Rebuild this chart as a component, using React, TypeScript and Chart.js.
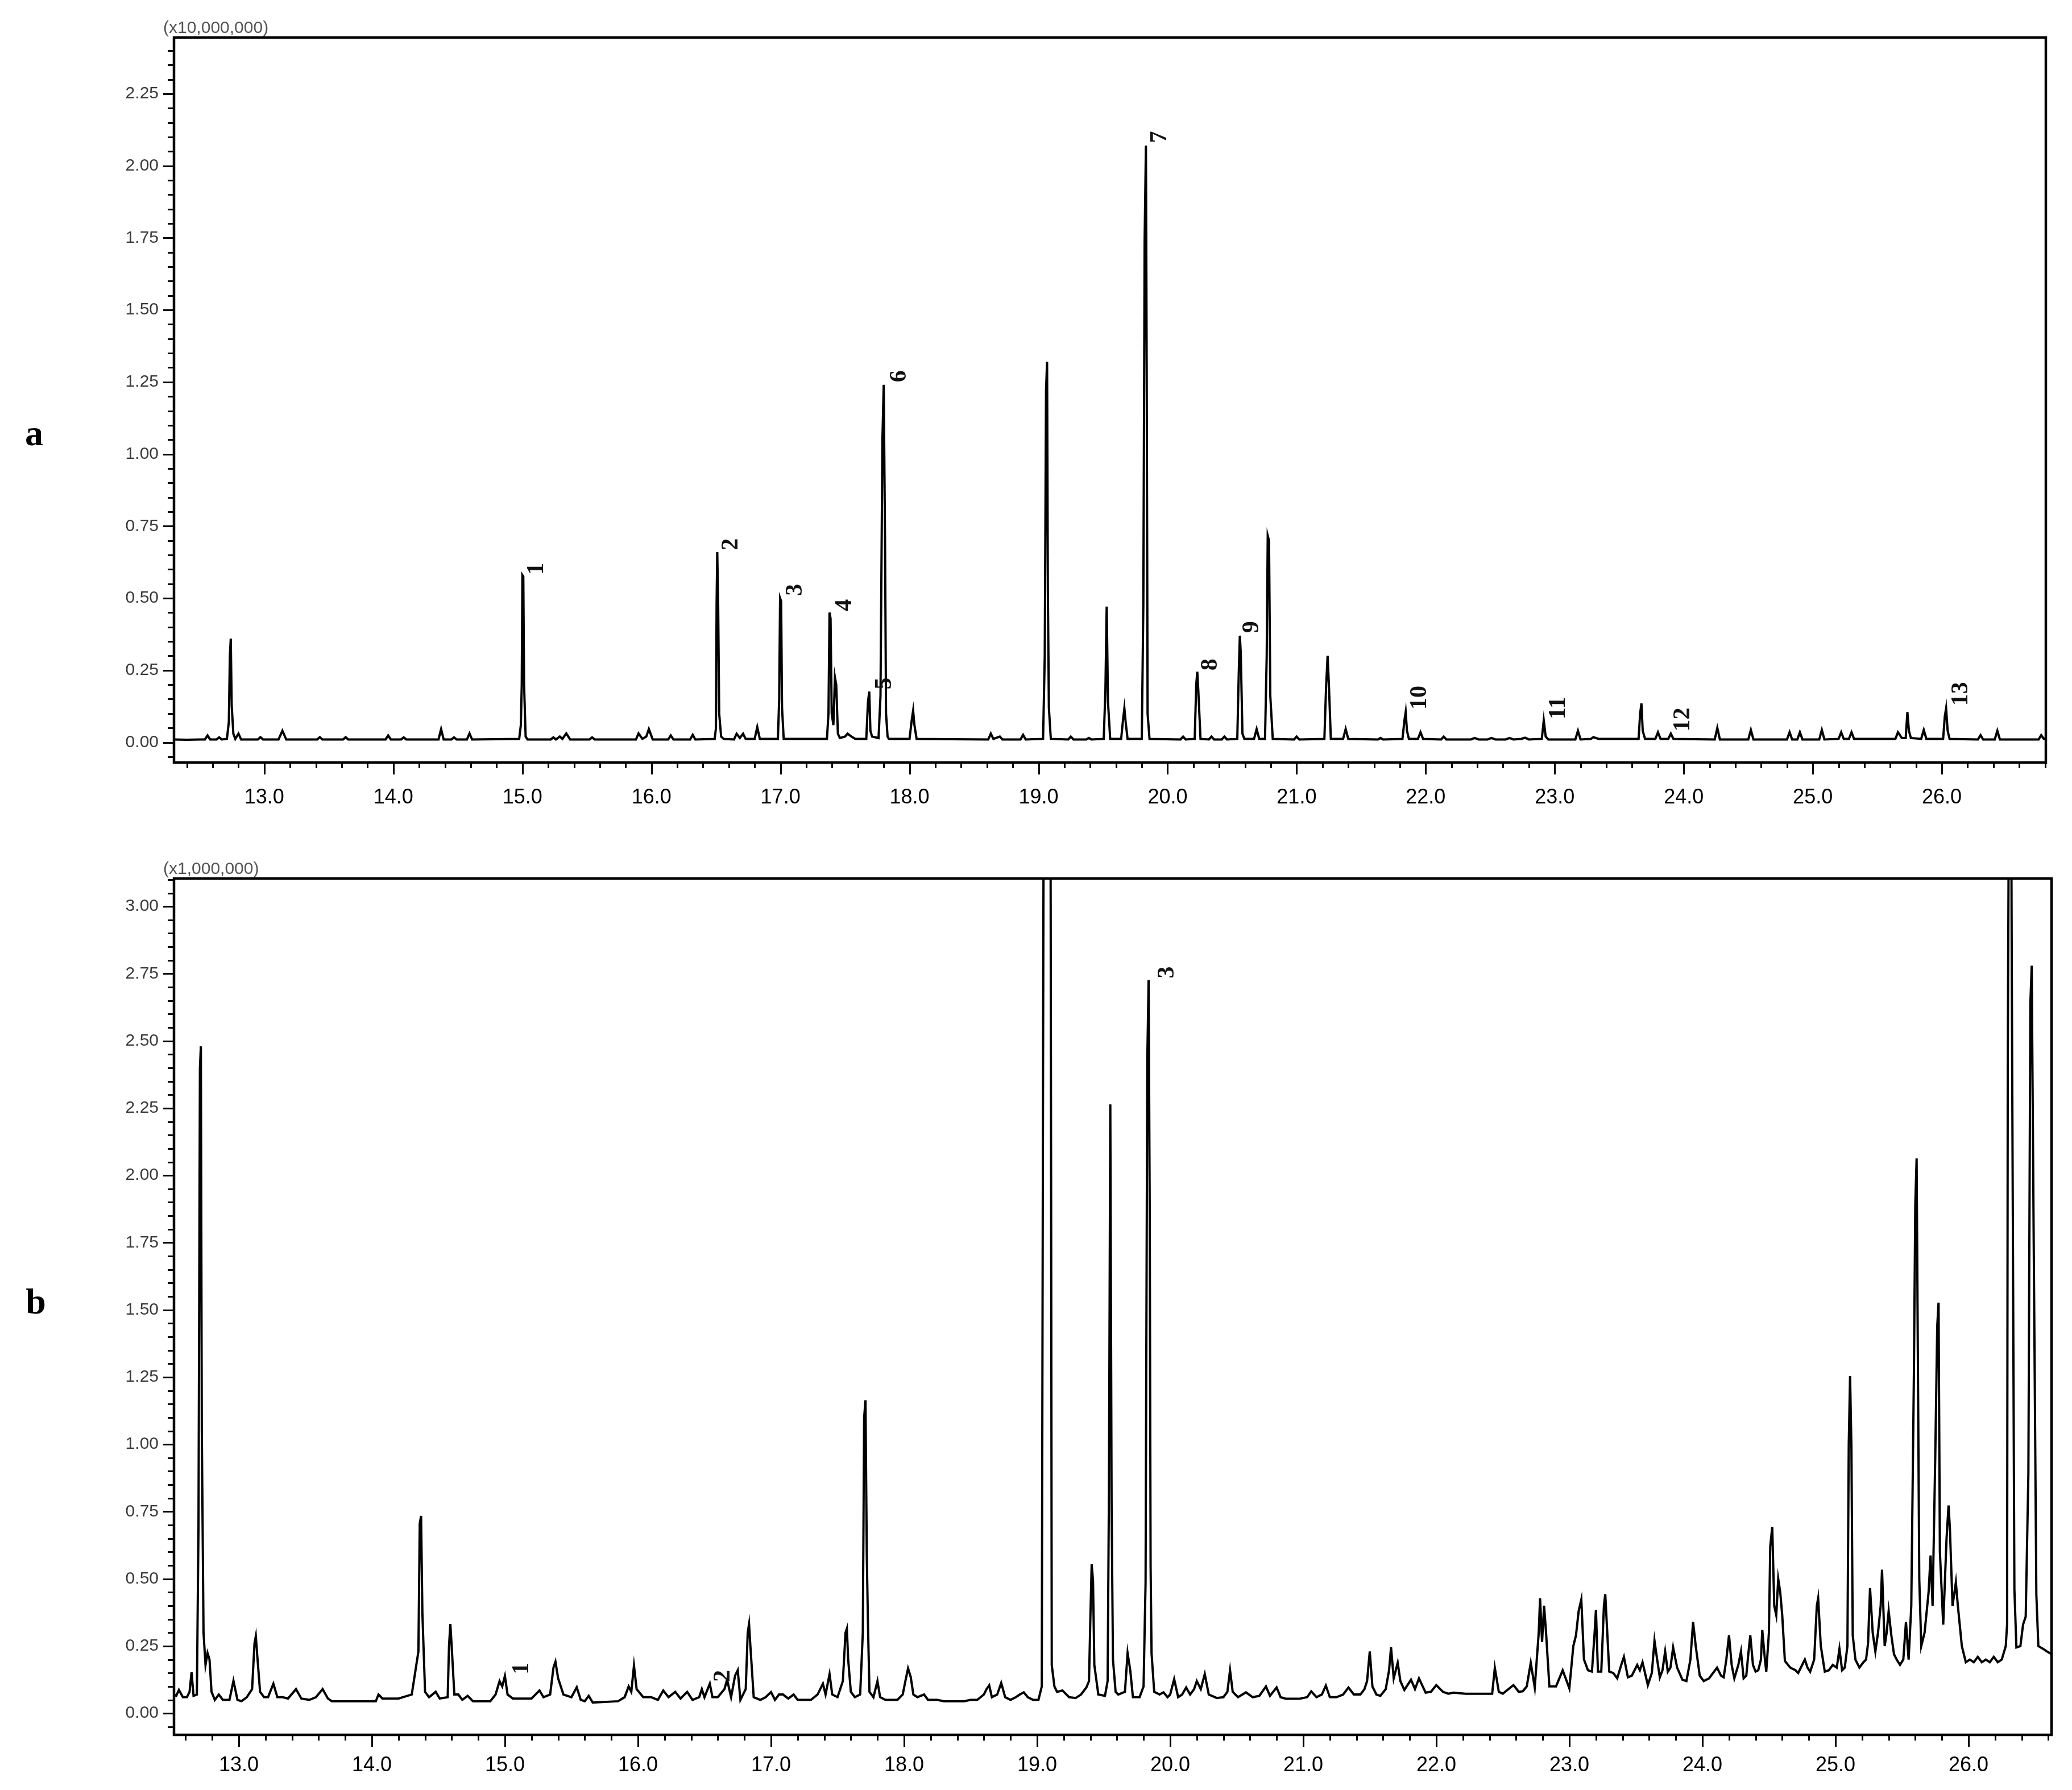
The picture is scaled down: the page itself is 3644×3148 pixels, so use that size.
import React, { useEffect, useRef } from "react";
import { Chart, registerables } from "chart.js";

Chart.register(...registerables);

// ---------- Panel a : retention time (min) vs intensity (x10,000,000) ----------
const traceA: [number, number][] = [
  [12.30, 0.010], [12.40, 0.009], [12.50, 0.010],
  [12.54, 0.010], [12.56, 0.024], [12.58, 0.010],
  [12.63, 0.010], [12.65, 0.017], [12.67, 0.010],
  [12.71, 0.012], [12.725, 0.07], [12.733, 0.30], [12.74, 0.36], [12.747, 0.13], [12.76, 0.03], [12.775, 0.012],
  [12.80, 0.030], [12.82, 0.010],
  [12.95, 0.010], [12.97, 0.018], [12.99, 0.010],
  [13.11, 0.010], [13.14, 0.040], [13.17, 0.010],
  [13.41, 0.010], [13.43, 0.018], [13.45, 0.010],
  [13.61, 0.010], [13.63, 0.018], [13.65, 0.010],
  [13.94, 0.010], [13.96, 0.024], [13.98, 0.010],
  [14.06, 0.010], [14.08, 0.017], [14.10, 0.010],
  [14.35, 0.010], [14.37, 0.046], [14.39, 0.010],
  [14.45, 0.010], [14.47, 0.017], [14.49, 0.010],
  [14.57, 0.010], [14.59, 0.031], [14.61, 0.010],
  [14.975, 0.012], [14.988, 0.06], [14.995, 0.20], [15.0, 0.58], [15.007, 0.575], [15.013, 0.20], [15.025, 0.02], [15.04, 0.010],
  [15.22, 0.010], [15.24, 0.017], [15.26, 0.010], [15.29, 0.020], [15.31, 0.012], [15.34, 0.031], [15.37, 0.010],
  [15.52, 0.010], [15.54, 0.017], [15.56, 0.010],
  [15.88, 0.010], [15.90, 0.031], [15.93, 0.012], [15.96, 0.020], [15.98, 0.046], [16.01, 0.010],
  [16.13, 0.010], [16.15, 0.024], [16.17, 0.010],
  [16.30, 0.010], [16.32, 0.026], [16.34, 0.010],
  [16.49, 0.012], [16.50, 0.05], [16.505, 0.48], [16.51, 0.66], [16.517, 0.48], [16.525, 0.10], [16.54, 0.02], [16.56, 0.012],
  [16.64, 0.010], [16.66, 0.030], [16.685, 0.015], [16.71, 0.030], [16.73, 0.012],
  [16.80, 0.012], [16.82, 0.053], [16.84, 0.012],
  [16.98, 0.012], [16.99, 0.15], [16.997, 0.50], [17.005, 0.49], [17.012, 0.12], [17.025, 0.012],
  [17.36, 0.012], [17.372, 0.10], [17.38, 0.45], [17.388, 0.43], [17.397, 0.10], [17.41, 0.06], [17.422, 0.226], [17.432, 0.20], [17.445, 0.03], [17.46, 0.015],
  [17.50, 0.020], [17.52, 0.030], [17.55, 0.020], [17.58, 0.012],
  [17.665, 0.012], [17.678, 0.14], [17.688, 0.176], [17.697, 0.04], [17.71, 0.02],
  [17.76, 0.015], [17.775, 0.16], [17.79, 1.05], [17.80, 1.24], [17.81, 0.71], [17.818, 0.10], [17.83, 0.02], [17.84, 0.012],
  [18.00, 0.012], [18.018, 0.08], [18.028, 0.11], [18.038, 0.06], [18.055, 0.012],
  [18.61, 0.010], [18.63, 0.030], [18.65, 0.012], [18.70, 0.020], [18.72, 0.010],
  [18.86, 0.010], [18.88, 0.026], [18.90, 0.010],
  [19.035, 0.012], [19.048, 0.30], [19.058, 1.22], [19.066, 1.32], [19.072, 0.53], [19.08, 0.12], [19.095, 0.012],
  [19.23, 0.010], [19.25, 0.020], [19.27, 0.010], [19.37, 0.010], [19.39, 0.015], [19.41, 0.010],
  [19.505, 0.012], [19.518, 0.18], [19.528, 0.471], [19.538, 0.14], [19.555, 0.012],
  [19.64, 0.012], [19.655, 0.08], [19.665, 0.118], [19.675, 0.07], [19.69, 0.012],
  [19.80, 0.012], [19.812, 0.479], [19.822, 1.74], [19.832, 2.07], [19.838, 1.29], [19.845, 0.10], [19.86, 0.012],
  [20.10, 0.010], [20.12, 0.020], [20.14, 0.010],
  [20.21, 0.012], [20.222, 0.20], [20.23, 0.245], [20.238, 0.18], [20.255, 0.012],
  [20.32, 0.010], [20.34, 0.020], [20.36, 0.010], [20.42, 0.010], [20.44, 0.020], [20.46, 0.010],
  [20.54, 0.012], [20.552, 0.25], [20.56, 0.37], [20.567, 0.31], [20.58, 0.03], [20.595, 0.012],
  [20.67, 0.012], [20.69, 0.046], [20.71, 0.012],
  [20.755, 0.012], [20.768, 0.30], [20.776, 0.717], [20.786, 0.70], [20.796, 0.16], [20.815, 0.012],
  [20.98, 0.010], [21.00, 0.020], [21.02, 0.010],
  [21.215, 0.012], [21.228, 0.19], [21.24, 0.30], [21.25, 0.20], [21.265, 0.012],
  [21.36, 0.012], [21.38, 0.046], [21.40, 0.012],
  [21.63, 0.010], [21.65, 0.015], [21.67, 0.010],
  [21.82, 0.012], [21.835, 0.075], [21.845, 0.105], [21.855, 0.04], [21.87, 0.012],
  [21.94, 0.012], [21.96, 0.035], [21.98, 0.012],
  [22.12, 0.010], [22.14, 0.020], [22.16, 0.010],
  [22.35, 0.010], [22.38, 0.015], [22.41, 0.010], [22.48, 0.010], [22.51, 0.015], [22.54, 0.010],
  [22.62, 0.010], [22.65, 0.015], [22.68, 0.010], [22.74, 0.012], [22.77, 0.016], [22.80, 0.010],
  [22.90, 0.012], [22.915, 0.076], [22.93, 0.02], [22.95, 0.010],
  [23.16, 0.010], [23.18, 0.040], [23.20, 0.010],
  [23.28, 0.012], [23.30, 0.018], [23.34, 0.012],
  [23.65, 0.012], [23.662, 0.10], [23.672, 0.135], [23.682, 0.04], [23.70, 0.012],
  [23.78, 0.012], [23.80, 0.035], [23.82, 0.012], [23.88, 0.012], [23.90, 0.030], [23.92, 0.012],
  [24.24, 0.010], [24.26, 0.050], [24.28, 0.010],
  [24.50, 0.010], [24.52, 0.043], [24.54, 0.010],
  [24.80, 0.010], [24.82, 0.035], [24.84, 0.010], [24.88, 0.010], [24.90, 0.035], [24.92, 0.010],
  [25.05, 0.010], [25.07, 0.043], [25.09, 0.010],
  [25.20, 0.012], [25.22, 0.035], [25.24, 0.012], [25.28, 0.012], [25.30, 0.035], [25.32, 0.012],
  [25.64, 0.012], [25.66, 0.035], [25.69, 0.015],
  [25.72, 0.015], [25.733, 0.105], [25.745, 0.04], [25.76, 0.015],
  [25.84, 0.012], [25.86, 0.043], [25.88, 0.012],
  [26.01, 0.012], [26.023, 0.09], [26.033, 0.118], [26.045, 0.04], [26.06, 0.012],
  [26.28, 0.010], [26.30, 0.025], [26.32, 0.010],
  [26.41, 0.010], [26.43, 0.040], [26.45, 0.010],
  [26.75, 0.010], [26.77, 0.025], [26.79, 0.012], [26.81, 0.015],
];

const peakLabelsA = ["1", "2", "3", "4", "5", "6", "7", "8", "9", "10", "11", "12", "13"];
const peakLabelTimesA = [15.11, 16.62, 17.116, 17.50, 17.81, 17.925, 19.94, 20.335, 20.655, 21.956, 23.03, 23.995, 26.15];
const peakLabelValuesA = [0.602, 0.687, 0.529, 0.476, 0.204, 1.27, 2.10, 0.27, 0.40, 0.155, 0.119, 0.079, 0.168];

// ---------- Panel b : retention time (min) vs intensity (x1,000,000) ----------
const traceB: [number, number][] = [
  [12.513, 0.070], [12.53, 0.065], [12.55, 0.087], [12.58, 0.060], [12.61, 0.060], [12.63, 0.080], [12.645, 0.153], [12.66, 0.065], [12.685, 0.070],
  [12.697, 0.69], [12.708, 2.40], [12.715, 2.48], [12.722, 1.05], [12.735, 0.30], [12.75, 0.18], [12.765, 0.224], [12.78, 0.20], [12.795, 0.08],
  [12.82, 0.050], [12.85, 0.070], [12.88, 0.050], [12.93, 0.050], [12.96, 0.121], [12.99, 0.050], [13.02, 0.045], [13.06, 0.060], [13.10, 0.090],
  [13.118, 0.26], [13.128, 0.287], [13.138, 0.22], [13.16, 0.080], [13.19, 0.060], [13.22, 0.060], [13.26, 0.110], [13.29, 0.060], [13.33, 0.060],
  [13.37, 0.055], [13.43, 0.090], [13.47, 0.055], [13.53, 0.050], [13.58, 0.060], [13.63, 0.090], [13.67, 0.055], [13.70, 0.045], [14.03, 0.045],
  [14.05, 0.070], [14.08, 0.055], [14.20, 0.055], [14.30, 0.070], [14.35, 0.23], [14.36, 0.705], [14.37, 0.734], [14.38, 0.37], [14.40, 0.080],
  [14.43, 0.060], [14.48, 0.080], [14.51, 0.055], [14.57, 0.060], [14.58, 0.25], [14.59, 0.332], [14.60, 0.25], [14.62, 0.070], [14.65, 0.070],
  [14.68, 0.050], [14.72, 0.065], [14.76, 0.045], [14.89, 0.045], [14.93, 0.070], [14.96, 0.120], [14.98, 0.100], [15.00, 0.139], [15.02, 0.070],
  [15.06, 0.055], [15.20, 0.055], [15.26, 0.085], [15.29, 0.060], [15.34, 0.070], [15.365, 0.17], [15.38, 0.192], [15.40, 0.130], [15.44, 0.070],
  [15.50, 0.060], [15.54, 0.097], [15.57, 0.050], [15.60, 0.045], [15.63, 0.065], [15.66, 0.040], [15.85, 0.045], [15.90, 0.060], [15.93, 0.100],
  [15.95, 0.080], [15.97, 0.177], [15.99, 0.090], [16.04, 0.060], [16.10, 0.060], [16.15, 0.050], [16.19, 0.085], [16.23, 0.060], [16.28, 0.080],
  [16.32, 0.055], [16.37, 0.080], [16.41, 0.050], [16.46, 0.060], [16.48, 0.090], [16.50, 0.060], [16.54, 0.110], [16.56, 0.060], [16.60, 0.060],
  [16.65, 0.090], [16.67, 0.125], [16.70, 0.060], [16.73, 0.140], [16.75, 0.160], [16.77, 0.050], [16.81, 0.090], [16.825, 0.30], [16.835, 0.332],
  [16.845, 0.25], [16.87, 0.060], [16.92, 0.050], [16.96, 0.060], [17.00, 0.079], [17.03, 0.050], [17.06, 0.070], [17.09, 0.070], [17.13, 0.055],
  [17.17, 0.070], [17.20, 0.050], [17.30, 0.050], [17.35, 0.070], [17.39, 0.110], [17.41, 0.070], [17.44, 0.146], [17.46, 0.070], [17.50, 0.060],
  [17.54, 0.120], [17.56, 0.30], [17.57, 0.315], [17.58, 0.20], [17.60, 0.080], [17.63, 0.060], [17.67, 0.070], [17.69, 0.30], [17.70, 1.10],
  [17.71, 1.164], [17.72, 0.583], [17.73, 0.30], [17.74, 0.080], [17.77, 0.060], [17.80, 0.120], [17.82, 0.060], [17.86, 0.050], [17.95, 0.050],
  [17.99, 0.070], [18.01, 0.120], [18.03, 0.167], [18.05, 0.135], [18.07, 0.070], [18.10, 0.060], [18.15, 0.070], [18.18, 0.050], [18.25, 0.050],
  [18.30, 0.045], [18.45, 0.045], [18.50, 0.050], [18.55, 0.050], [18.60, 0.070], [18.62, 0.090], [18.64, 0.104], [18.66, 0.060], [18.70, 0.070],
  [18.73, 0.113], [18.76, 0.060], [18.80, 0.050], [18.84, 0.060], [18.87, 0.070], [18.90, 0.078], [18.93, 0.060], [18.97, 0.050], [19.01, 0.050],
  [19.035, 0.100], [19.045, 2.5], [19.05, 3.6], [19.10, 3.6], [19.105, 2.0], [19.11, 0.18], [19.13, 0.100], [19.15, 0.080], [19.19, 0.085],
  [19.24, 0.060], [19.29, 0.057], [19.33, 0.070], [19.37, 0.096], [19.39, 0.120], [19.40, 0.35], [19.41, 0.554], [19.42, 0.494], [19.43, 0.18],
  [19.46, 0.070], [19.51, 0.065], [19.53, 0.120], [19.54, 0.843], [19.55, 2.264], [19.56, 0.755], [19.57, 0.20], [19.59, 0.080], [19.61, 0.070],
  [19.66, 0.080], [19.68, 0.224], [19.70, 0.160], [19.72, 0.060], [19.77, 0.060], [19.80, 0.100], [19.815, 0.484], [19.828, 2.43], [19.838, 2.726],
  [19.846, 1.90], [19.853, 0.544], [19.86, 0.224], [19.88, 0.080], [19.92, 0.070], [19.95, 0.078], [19.98, 0.060], [20.00, 0.070], [20.03, 0.127],
  [20.06, 0.060], [20.09, 0.070], [20.12, 0.096], [20.15, 0.070], [20.18, 0.090], [20.20, 0.120], [20.23, 0.090], [20.26, 0.146], [20.29, 0.070],
  [20.35, 0.057], [20.40, 0.060], [20.43, 0.080], [20.45, 0.160], [20.47, 0.080], [20.51, 0.060], [20.57, 0.078], [20.62, 0.060], [20.67, 0.065],
  [20.72, 0.100], [20.75, 0.065], [20.80, 0.096], [20.83, 0.060], [20.87, 0.054], [20.97, 0.054], [21.03, 0.060], [21.06, 0.082], [21.10, 0.060],
  [21.14, 0.070], [21.17, 0.103], [21.20, 0.060], [21.25, 0.060], [21.30, 0.070], [21.34, 0.096], [21.38, 0.070], [21.43, 0.070], [21.46, 0.090],
  [21.48, 0.120], [21.50, 0.230], [21.52, 0.100], [21.55, 0.070], [21.58, 0.065], [21.62, 0.090], [21.645, 0.160], [21.66, 0.245], [21.68, 0.130],
  [21.71, 0.188], [21.73, 0.120], [21.76, 0.087], [21.81, 0.125], [21.84, 0.090], [21.87, 0.130], [21.92, 0.077], [21.96, 0.080], [22.00, 0.105],
  [22.05, 0.080], [22.09, 0.073], [22.13, 0.077], [22.22, 0.073], [22.30, 0.073], [22.42, 0.073], [22.44, 0.169], [22.47, 0.080], [22.50, 0.073],
  [22.58, 0.105], [22.62, 0.080], [22.65, 0.082], [22.68, 0.100], [22.71, 0.188], [22.74, 0.096], [22.77, 0.30], [22.78, 0.428], [22.795, 0.265],
  [22.81, 0.400], [22.825, 0.30], [22.85, 0.100], [22.90, 0.100], [22.95, 0.160], [22.98, 0.120], [23.00, 0.093], [23.03, 0.25], [23.05, 0.29],
  [23.07, 0.38], [23.09, 0.423], [23.11, 0.20], [23.14, 0.160], [23.17, 0.155], [23.19, 0.30], [23.20, 0.385], [23.215, 0.155], [23.24, 0.155],
  [23.26, 0.40], [23.27, 0.443], [23.285, 0.30], [23.30, 0.155], [23.33, 0.150], [23.36, 0.130], [23.39, 0.180], [23.41, 0.210], [23.44, 0.134],
  [23.47, 0.140], [23.51, 0.180], [23.53, 0.160], [23.55, 0.190], [23.59, 0.105], [23.62, 0.150], [23.64, 0.270], [23.66, 0.200], [23.68, 0.134],
  [23.70, 0.160], [23.72, 0.230], [23.74, 0.155], [23.76, 0.170], [23.78, 0.245], [23.81, 0.170], [23.85, 0.125], [23.88, 0.120], [23.91, 0.200],
  [23.93, 0.340], [23.95, 0.250], [23.98, 0.140], [24.01, 0.120], [24.05, 0.130], [24.08, 0.150], [24.11, 0.170], [24.14, 0.140], [24.16, 0.134],
  [24.18, 0.200], [24.20, 0.290], [24.22, 0.180], [24.24, 0.130], [24.27, 0.180], [24.29, 0.230], [24.31, 0.130], [24.33, 0.140], [24.345, 0.220],
  [24.36, 0.290], [24.38, 0.180], [24.40, 0.155], [24.42, 0.160], [24.44, 0.200], [24.45, 0.310], [24.47, 0.200], [24.48, 0.155], [24.50, 0.30],
  [24.51, 0.62], [24.525, 0.693], [24.54, 0.40], [24.555, 0.365], [24.57, 0.50], [24.585, 0.45], [24.60, 0.365], [24.62, 0.195], [24.66, 0.170],
  [24.70, 0.160], [24.72, 0.150], [24.74, 0.170], [24.77, 0.200], [24.79, 0.170], [24.81, 0.155], [24.84, 0.200], [24.86, 0.400], [24.87, 0.428],
  [24.89, 0.250], [24.92, 0.155], [24.95, 0.160], [24.98, 0.180], [25.01, 0.170], [25.03, 0.240], [25.05, 0.160], [25.07, 0.170], [25.09, 0.250],
  [25.10, 1.00], [25.11, 1.254], [25.12, 0.99], [25.13, 0.290], [25.15, 0.200], [25.18, 0.170], [25.21, 0.190], [25.23, 0.200], [25.245, 0.260],
  [25.26, 0.466], [25.28, 0.300], [25.30, 0.230], [25.32, 0.300], [25.34, 0.400], [25.35, 0.534], [25.37, 0.250], [25.385, 0.300], [25.40, 0.380],
  [25.42, 0.290], [25.44, 0.220], [25.46, 0.200], [25.485, 0.180], [25.51, 0.200], [25.53, 0.340], [25.55, 0.200], [25.57, 0.400], [25.59, 1.28],
  [25.60, 1.89], [25.61, 2.063], [25.62, 1.28], [25.63, 0.50], [25.645, 0.250], [25.67, 0.300], [25.70, 0.450], [25.715, 0.587], [25.73, 0.400],
  [25.75, 0.950], [25.765, 1.44], [25.775, 1.527], [25.785, 0.600], [25.81, 0.330], [25.835, 0.650], [25.85, 0.773], [25.86, 0.690], [25.88, 0.400],
  [25.905, 0.487], [25.92, 0.400], [25.95, 0.250], [25.98, 0.190], [26.01, 0.200], [26.04, 0.190], [26.07, 0.210], [26.10, 0.190], [26.13, 0.200],
  [26.16, 0.190], [26.19, 0.210], [26.22, 0.190], [26.25, 0.200], [26.28, 0.250], [26.29, 0.330], [26.295, 2.40], [26.305, 3.6], [26.32, 3.6],
  [26.325, 2.79], [26.345, 0.460], [26.36, 0.245], [26.39, 0.250], [26.41, 0.330], [26.43, 0.360], [26.45, 0.890], [26.465, 2.64], [26.475, 2.78],
  [26.49, 1.76], [26.51, 0.440], [26.525, 0.250], [26.56, 0.240], [26.59, 0.230], [26.624, 0.220],
];

const peakLabelsB = ["1", "2", "3"];
const peakLabelTimesB = [15.13, 16.64, 19.98];
const peakLabelValuesB = [0.167, 0.139, 2.755];

const unitLabelA = "(x10,000,000)";
const unitLabelB = "(x1,000,000)";

type PanelCfg = {
  trace: [number, number][];
  labels: string[];
  labelTimes: number[];
  labelValues: number[];
  unit: string;
  xMin: number;
  xMax: number;
  yMin: number;
  yMax: number;
  height: number;
  padTop: number;
  padRight: number;
  xAxisHeight: number;
  xLabelPad: number;
  unitY: number;
};

const SANS = '"Liberation Sans", Arial, sans-serif';
const SERIF = '"Liberation Serif", "Times New Roman", serif';

function decorPlugin(cfg: PanelCfg) {
  return {
    id: "decor",
    afterDraw(chart: any) {
      const { ctx, chartArea: ca } = chart;
      const xs = chart.scales.x;
      const ys = chart.scales.y;
      ctx.save();
      ctx.strokeStyle = "#000";
      ctx.lineWidth = 3;
      const kyStart = Math.ceil(ys.min / 0.05 - 1e-6);
      for (let k = kyStart; k * 0.05 <= ys.max + 1e-9; k++) {
        const py = Math.round(ys.getPixelForValue(k * 0.05)) + 0.5;
        const major = k % 5 === 0;
        ctx.beginPath();
        ctx.moveTo(ca.left, py);
        ctx.lineTo(ca.left - (major ? 19 : 11), py);
        ctx.stroke();
      }
      const kxStart = Math.ceil(xs.min / 0.2 - 1e-6);
      for (let k = kxStart; k * 0.2 <= xs.max + 1e-9; k++) {
        const px = Math.round(xs.getPixelForValue(k * 0.2)) + 0.5;
        const major = k % 5 === 0;
        ctx.beginPath();
        ctx.moveTo(px, ca.bottom);
        ctx.lineTo(px, ca.bottom + (major ? 21 : 10));
        ctx.stroke();
      }
      ctx.lineWidth = 4.5;
      ctx.strokeRect(ca.left, ca.top, ca.right - ca.left, ca.bottom - ca.top);
      ctx.fillStyle = "#555";
      ctx.font = `30px ${SANS}`;
      ctx.textAlign = "left";
      ctx.textBaseline = "middle";
      ctx.fillText(cfg.unit, 287, cfg.unitY);
      ctx.fillStyle = "#111";
      ctx.font = `bold 42px ${SERIF}`;
      ctx.textAlign = "center";
      ctx.textBaseline = "middle";
      cfg.labels.forEach((txt, i) => {
        const px = xs.getPixelForValue(cfg.labelTimes[i]);
        const py = ys.getPixelForValue(cfg.labelValues[i]);
        ctx.save();
        ctx.translate(px, py);
        ctx.rotate(-Math.PI / 2);
        ctx.fillText(txt, 0, 0);
        ctx.restore();
      });
      ctx.restore();
    },
  };
}

function Panel({ cfg, top }: { cfg: PanelCfg; top: number }) {
  const ref = useRef<HTMLCanvasElement | null>(null);
  useEffect(() => {
    if (!ref.current) return;
    const chart = new Chart(ref.current, {
      type: "line",
      data: {
        datasets: [
          {
            data: cfg.trace.map(([t, v]) => ({ x: t, y: v })),
            borderColor: "#000",
            borderWidth: 4,
            pointRadius: 0,
            tension: 0,
            fill: false,
          },
        ],
      },
      options: {
        animation: false,
        responsive: false,
        devicePixelRatio: 1,
        layout: { padding: { left: 0, right: cfg.padRight, top: cfg.padTop, bottom: 0 } },
        plugins: { legend: { display: false }, tooltip: { enabled: false }, title: { display: false } },
        scales: {
          x: {
            type: "linear",
            min: cfg.xMin,
            max: cfg.xMax,
            afterFit: (s: any) => {
              s.height = cfg.xAxisHeight;
            },
            grid: { display: false, drawTicks: false },
            border: { display: false },
            ticks: {
              stepSize: 1,
              includeBounds: false,
              autoSkip: false,
              maxRotation: 0,
              padding: cfg.xLabelPad,
              color: "#000",
              font: { family: SANS, size: 36 },
              callback: (v: any) => Number(v).toFixed(1),
            },
          },
          y: {
            type: "linear",
            min: cfg.yMin,
            max: cfg.yMax,
            afterFit: (s: any) => {
              s.width = 306;
            },
            grid: { display: false, drawTicks: false },
            border: { display: false },
            ticks: {
              stepSize: 0.25,
              includeBounds: false,
              autoSkip: false,
              padding: 27,
              color: "#3a3a3a",
              font: { family: SANS, size: 30 },
              callback: (v: any) => Number(v).toFixed(2),
            },
          },
        },
      } as any,
      plugins: [decorPlugin(cfg)],
    });
    return () => chart.destroy();
  }, [cfg]);
  return (
    <canvas
      ref={ref}
      width={3644}
      height={cfg.height}
      style={{ position: "absolute", left: 0, top, width: 3644, height: cfg.height, display: "block" }}
    />
  );
}

const cfgA: PanelCfg = {
  trace: traceA,
  labels: peakLabelsA,
  labelTimes: peakLabelTimesA,
  labelValues: peakLabelValuesA,
  unit: unitLabelA,
  xMin: 12.30,
  xMax: 26.806,
  yMin: -0.07,
  yMax: 2.445,
  height: 1440,
  padTop: 66,
  padRight: 46,
  xAxisHeight: 99,
  xLabelPad: 40,
  unitY: 50,
};

const cfgB: PanelCfg = {
  trace: traceB,
  labels: peakLabelsB,
  labelTimes: peakLabelTimesB,
  labelValues: peakLabelValuesB,
  unit: unitLabelB,
  xMin: 12.513,
  xMax: 26.624,
  yMin: -0.08,
  yMax: 3.104,
  height: 1708,
  padTop: 105,
  padRight: 36,
  xAxisHeight: 97,
  xLabelPad: 32,
  unitY: 89,
};

export default function App() {
  return (
    <div style={{ position: "absolute", left: 0, top: 0, width: 3644, height: 3148, background: "#fff", overflow: "hidden" }}>
      <Panel cfg={cfgA} top={0} />
      <Panel cfg={cfgB} top={1440} />
      <div
        style={{
          position: "absolute",
          left: 60,
          top: 762,
          transform: "translate(-50%, -50%)",
          fontFamily: SERIF,
          fontWeight: "bold",
          fontSize: 64,
          color: "#000",
          lineHeight: 1,
        }}
      >
        a
      </div>
      <div
        style={{
          position: "absolute",
          left: 63,
          top: 2289,
          transform: "translate(-50%, -50%)",
          fontFamily: SERIF,
          fontWeight: "bold",
          fontSize: 64,
          color: "#000",
          lineHeight: 1,
        }}
      >
        b
      </div>
    </div>
  );
}
